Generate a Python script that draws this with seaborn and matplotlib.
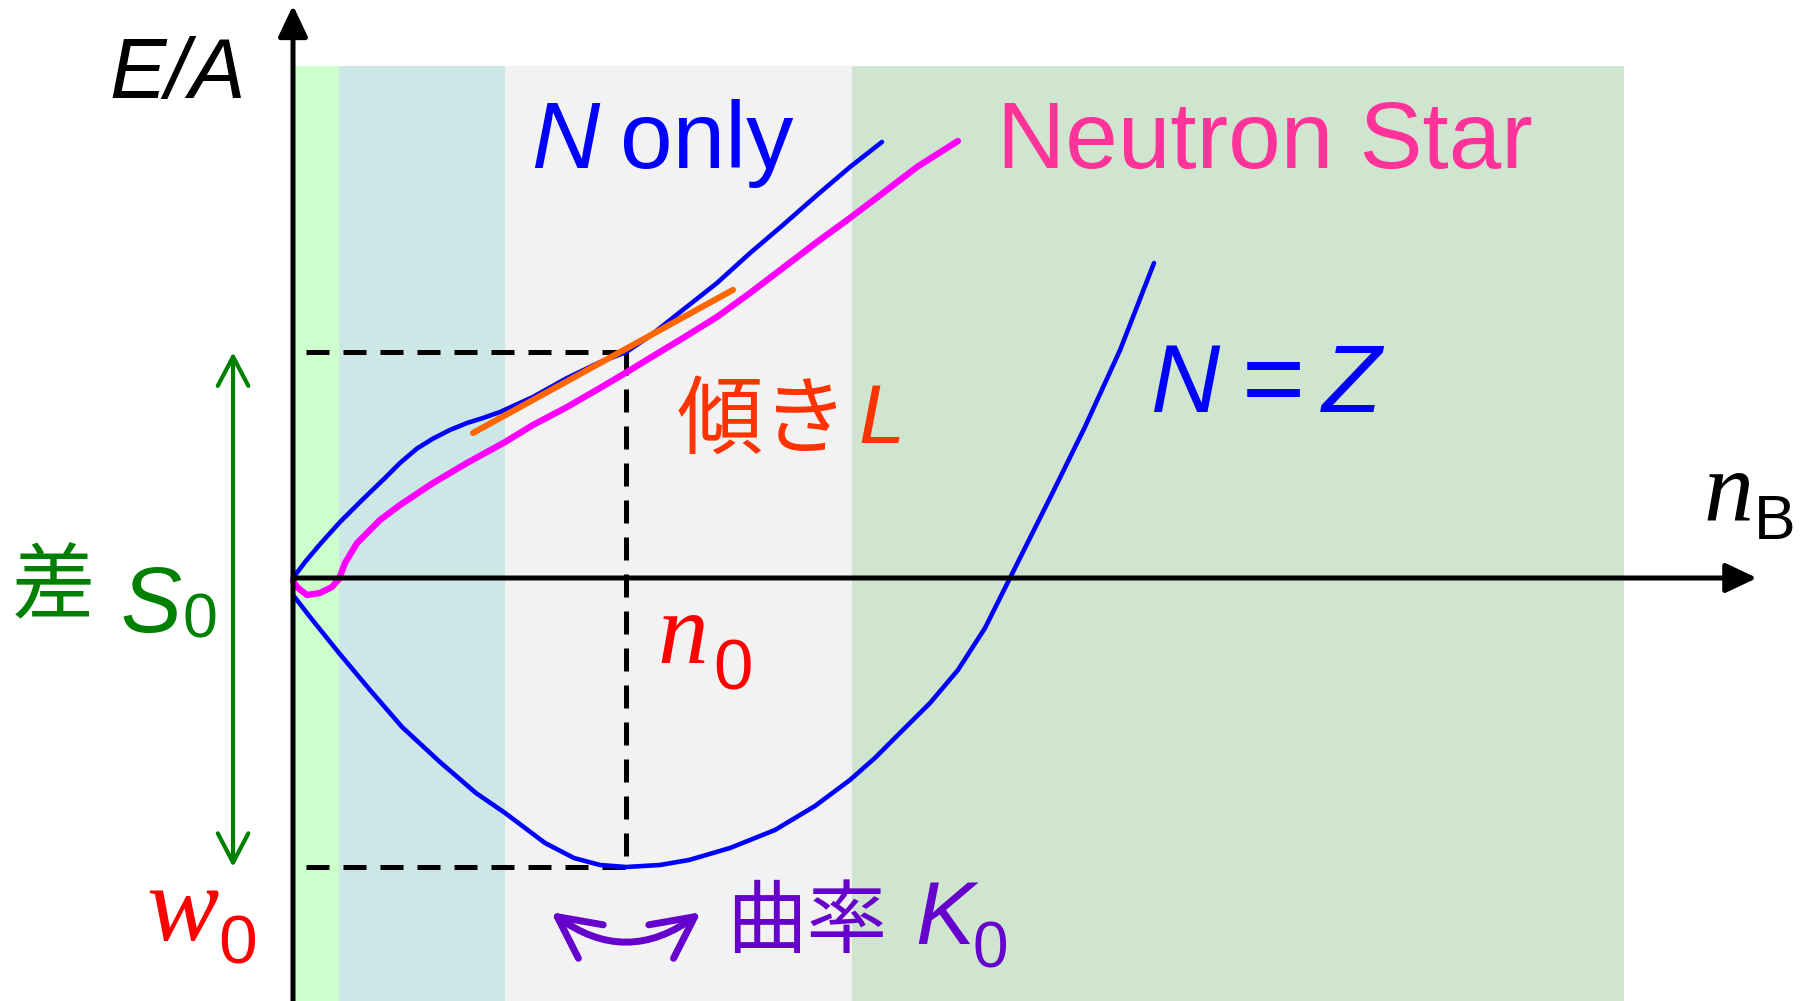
import matplotlib
matplotlib.use("Agg")
import matplotlib.pyplot as plt
from matplotlib import font_manager
import seaborn as sns
from matplotlib.patches import FancyArrowPatch, ArrowStyle

# ---- schematic equation of state: E/A (MeV) versus baryon density n_B (fm^-3) ----
n0 = 0.16          # saturation density
w0 = -16.0         # binding energy per nucleon at saturation
E_pnm_n0 = 12.5    # pure neutron matter at n0 (w0 + S0)

# pure neutron matter ("N only")
nb_pnm = [0.0, 0.0058, 0.0135, 0.0226, 0.0332, 0.0442, 0.0514, 0.0596, 0.0673, 0.0755,
          0.0836, 0.0913, 0.0995, 0.1153, 0.1317, 0.1475, 0.16, 0.1715, 0.1874, 0.2037,
          0.2196, 0.2354, 0.2518, 0.2676, 0.2830]
ea_pnm = [0.0, 0.886, 1.938, 3.100, 4.318, 5.536, 6.367, 7.170, 7.720, 8.200,
          8.581, 8.858, 9.190, 10.021, 11.073, 11.95, 12.5, 13.40, 14.85, 16.33,
          17.99, 19.54, 21.20, 22.75, 24.14]

# neutron-star matter
nb_ns = [0.0, 0.0024, 0.0067, 0.0130, 0.0187, 0.0221, 0.0250, 0.0308, 0.0418, 0.0514,
         0.0673, 0.0836, 0.1019, 0.1153, 0.1317, 0.1475, 0.1605, 0.1715, 0.1874, 0.2037,
         0.2196, 0.2354, 0.2518, 0.2676, 0.2835, 0.2998, 0.3195]
ea_ns = [-0.166, -0.554, -0.941, -0.830, -0.498, -0.055, 0.830, 1.938, 3.211, 4.042,
         5.260, 6.367, 7.529, 8.471, 9.467, 10.519, 11.405, 12.180, 13.287, 14.450,
         15.779, 17.163, 18.602, 19.931, 21.315, 22.754, 24.194]

# symmetric nuclear matter (N = Z)
nb_snm = [0.0, 0.0082, 0.0221, 0.0370, 0.0524, 0.0706, 0.0879, 0.1019, 0.1211, 0.1350,
          0.1475, 0.16, 0.1763, 0.1903, 0.2100, 0.2316, 0.2508, 0.2676, 0.2796, 0.2916,
          0.3061, 0.3195, 0.3325, 0.3445, 0.3541, 0.3642, 0.3805, 0.3974, 0.4137]
ea_snm = [-0.941, -2.159, -4.152, -6.201, -8.249, -10.187, -11.903, -13.010, -14.671, -15.502,
          -15.889, -16.0, -15.889, -15.612, -14.948, -13.951, -12.623, -11.183, -9.965, -8.581,
          -6.920, -5.093, -2.768, 0.0, 2.215, 4.540, 8.360, 12.623, 17.439]

# tangent of the symmetry energy at n0 (slope L)
nb_tan = [0.0865, 0.2114]
ea_tan = [8.03, 15.95]

# density regions shaded behind the curves
band_edges = [0.0, 0.0221, 0.1019, 0.2686, 0.6395]
band_colors = ["#CCFFCC", "#CDE6E6", "#F2F2F2", "#CFE5CF"]
band_top = 28.35

# ---- figure ----
W, H = 1810, 1001
sns.set_theme(style="white")
plt.rcParams["font.family"] = ["Liberation Sans", "Noto Sans CJK JP", "DejaVu Sans"]

fig = plt.figure(figsize=(W / 100, H / 100), dpi=100)
ax = fig.add_axes([0, 0, 1, 1])
xlim = (-0.14078, 0.72889)
ylim = (-23.419, 32.0)
ax.set_xlim(*xlim)
ax.set_ylim(*ylim)
ax.set_axis_off()

frac_top = (band_top - ylim[0]) / (ylim[1] - ylim[0])
for x0, x1, c in zip(band_edges[:-1], band_edges[1:], band_colors):
    ax.axvspan(x0, x1, ymin=0, ymax=frac_top, color=c, lw=0, zorder=0)

# guide lines at saturation
dash = dict(color="black", lw=3.6, dashes=[4.6, 2.8], zorder=1, solid_capstyle="butt")
ax.plot([0.0062, n0], [E_pnm_n0, E_pnm_n0], **dash)
ax.plot([0.0062, n0], [w0, w0], **dash)
ax.plot([n0, n0], [E_pnm_n0, w0], **dash)

# curves
sns.lineplot(x=nb_snm, y=ea_snm, sort=False, estimator=None, color="#0000FF", lw=3.3, ax=ax, zorder=2)
sns.lineplot(x=nb_pnm, y=ea_pnm, sort=False, estimator=None, color="#0000FF", lw=3.3, ax=ax, zorder=2)
sns.lineplot(x=nb_ns, y=ea_ns, sort=False, estimator=None, color="#FF00FF", lw=4.6, ax=ax, zorder=3)
sns.lineplot(x=nb_tan, y=ea_tan, sort=False, estimator=None, color="#FF6600", lw=4.4, ax=ax, zorder=4)
for ln in ax.get_lines():
    ln.set_solid_joinstyle("round")

# coordinate axes with arrow heads
axis_style = ArrowStyle("-|>", head_length=19, head_width=9)
ax.add_patch(FancyArrowPatch((0, ylim[0]), (0, 31.7), arrowstyle=axis_style, mutation_scale=1,
                             lw=3.6, color="black", shrinkA=0, shrinkB=0, zorder=5))
ax.add_patch(FancyArrowPatch((0, 0), (0.7034, 0), arrowstyle=axis_style, mutation_scale=1,
                             lw=3.6, color="black", shrinkA=0, shrinkB=0, zorder=5))

# S0 double arrow
ax.add_patch(FancyArrowPatch((-0.0288, E_pnm_n0), (-0.0288, w0),
                             arrowstyle=ArrowStyle("<->", head_length=21, head_width=11),
                             mutation_scale=1, lw=3.0, color="#008000", shrinkA=0, shrinkB=0, zorder=5))

# curvature arrow under the minimum
ax.add_patch(FancyArrowPatch((n0 - 0.036, -18.5), (n0 + 0.036, -18.5),
                             connectionstyle="arc3,rad=0.37",
                             arrowstyle=ArrowStyle("<->", head_length=30, head_width=15),
                             mutation_scale=1, lw=5.0, color="#6600CC", shrinkA=0, shrinkB=0,
                             capstyle="round", joinstyle="round", zorder=5))


def label(x, y, s, size, color, **kw):
    fig.text(x / W, 1 - y / H, s, fontsize=size, color=color, ha="left",
             va=kw.pop("va", "baseline"), **kw)


SANS = "Liberation Sans"
SERIF = "Liberation Serif"
CJK = ["Noto Sans CJK JP", "Liberation Sans"]
installed = {f.name for f in font_manager.fontManager.ttflist}
if "Liberation Sans Narrow" in installed:
    S_FONT, S_SIZE = "Liberation Sans Narrow", 81
else:
    S_FONT, S_SIZE = SANS, 66

label(109, 98, "E/A", 61, "black", family=SANS, style="italic")
label(1703, 519, "n", 72, "black", family=SERIF, style="italic")
label(1754, 539, "B", 45, "black", family=SANS)

label(531, 168, "N", 68, "#0000FF", family=SANS, style="italic")
label(620, 168, "only", 68, "#0000FF", family=SANS)
label(997, 168, "Neutron Star", 68, "#FF3399", family=SANS)

label(1150, 412, "N", 69, "#0000FF", family=SANS, style="italic")
label(1242, 415, "=", 78, "#0000FF", family=SANS)
label(1322, 412, "Z", 70, "#0000FF", family=SANS, style="italic")

label(676, 447, "傾き", 62, "#FF3300", family=CJK)
label(858, 443, "L", 60, "#FF3300", family=SANS, style="italic")

label(12, 612, "差", 60, "#008000", family=CJK)
label(120, 632, "S", S_SIZE, "#008000", family=S_FONT, style="italic")
label(182, 637, "0", 45, "#008000", family=SANS)

label(657, 663, "n", 73, "#FF0000", family=SERIF, style="italic")
label(713, 690, "0", 51, "#FF0000", family=SANS)

label(146, 940, "w", 78, "#FF0000", family=SERIF, style="italic")
label(218, 964, "0", 50, "#FF0000", family=SANS)

label(726, 947, "曲率", 58, "#6600CC", family=CJK)
label(915, 944, "K", 64, "#6600CC", family=SANS, style="italic")
label(972, 968, "0", 46, "#6600CC", family=SANS)

fig.savefig("out.png", dpi=100)
